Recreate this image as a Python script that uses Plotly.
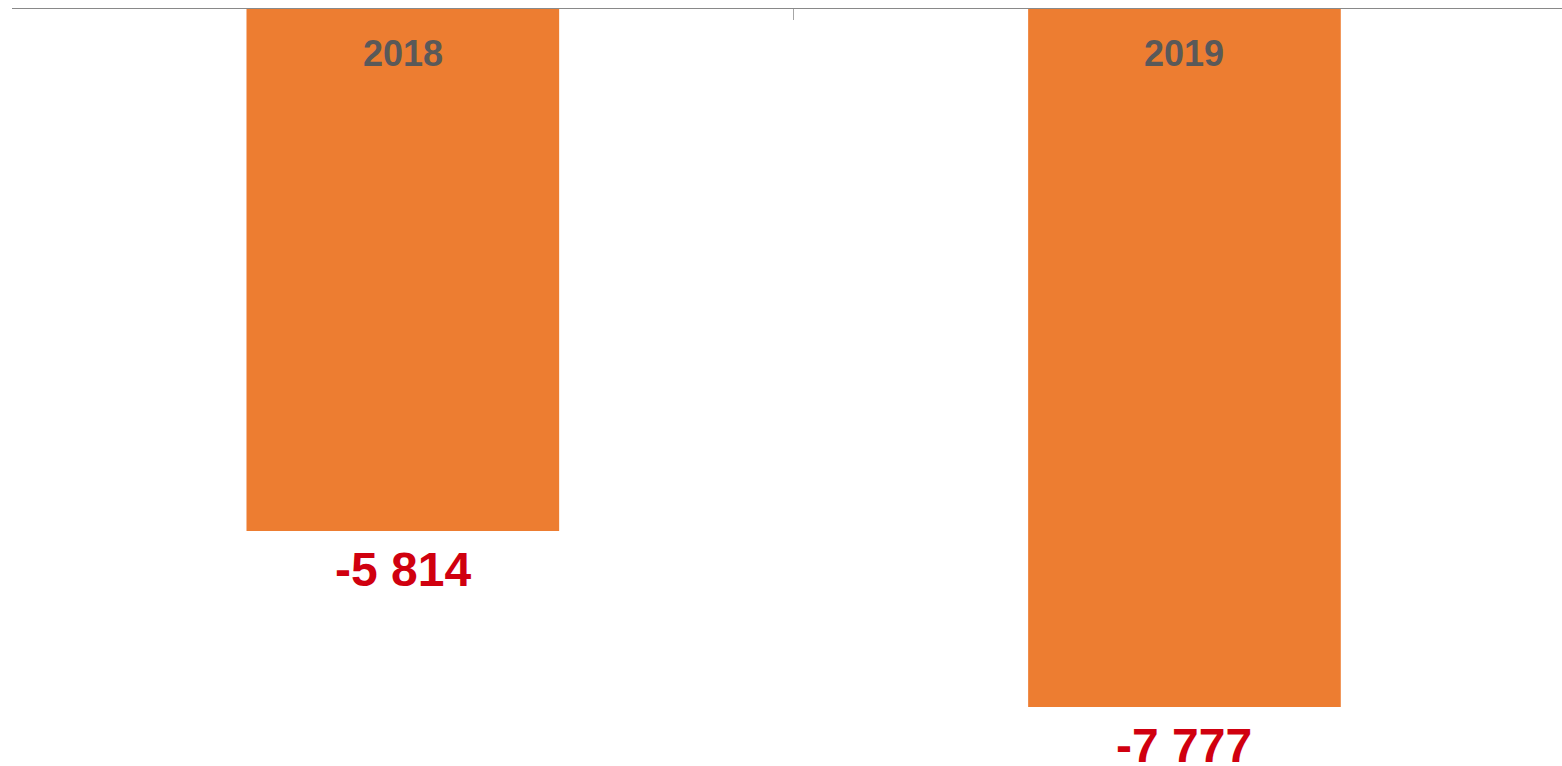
import plotly.graph_objects as go

categories = ["2018", "2019"]
values = [-5814, -7777]
value_labels = ["-5 814", "-7 777"]

FONT = "Liberation Sans, Arial, sans-serif"

fig = go.Figure()
fig.add_trace(go.Bar(
    x=categories,
    y=values,
    marker=dict(color="#ED7D31", line=dict(width=0)),
    showlegend=False,
    hoverinfo="x+y",
))

for i, c in enumerate(categories):
    fig.add_annotation(
        x=i, y=1, xref="x", yref="paper",
        text="<b>%s</b>" % c,
        showarrow=False,
        yanchor="top",
        yshift=-22,
        font=dict(family=FONT, size=36, color="#595959"),
    )

for i, (v, lab) in enumerate(zip(values, value_labels)):
    fig.add_annotation(
        x=i, y=v, xref="x", yref="y",
        text="<b>%s</b>" % lab,
        showarrow=False,
        yanchor="top",
        yshift=-10,
        font=dict(family=FONT, size=48, color="#D0000F"),
    )

fig.update_layout(
    width=1562, height=766,
    margin=dict(l=12, r=0, t=9, b=0),
    paper_bgcolor="white",
    plot_bgcolor="white",
    bargap=0.6,
    font=dict(family=FONT),
)
fig.update_xaxes(
    type="category",
    side="top",
    range=[-0.5, 1.483],
    showline=True, linecolor="#898989", linewidth=1,
    ticks="inside", tickson="boundaries", ticklen=11, tickcolor="#A6A6A6", tickwidth=1,
    showticklabels=False, showgrid=False, zeroline=False,
)
fig.update_yaxes(
    range=[-8433, 0],
    visible=False, showgrid=False, zeroline=False,
)

fig.write_html(
    "out.html",
    config={"displayModeBar": False},
    post_script="document.body.style.margin='0';document.body.style.overflow='hidden';",
)
